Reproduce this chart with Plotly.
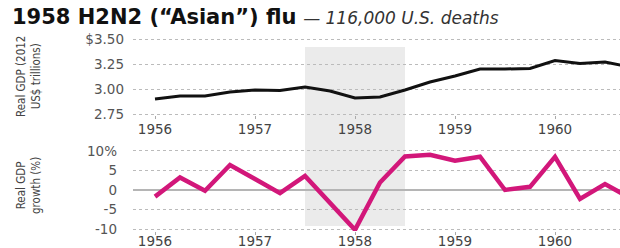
import plotly.graph_objects as go

quarters = [1956.0, 1956.25, 1956.5, 1956.75, 1957.0, 1957.25, 1957.5, 1957.75,
            1958.0, 1958.25, 1958.5, 1958.75, 1959.0, 1959.25, 1959.5, 1959.75,
            1960.0, 1960.25, 1960.5, 1960.75]
gdp = [2.90, 2.93, 2.93, 2.97, 2.99, 2.985, 3.02, 2.98,
       2.91, 2.92, 2.99, 3.07, 3.13, 3.20, 3.20, 3.205,
       3.285, 3.255, 3.27, 3.22]
growth = [-1.7, 3.2, -0.2, 6.4, 2.8, -0.8, 3.6, -3.4,
          -10.2, 1.9, 8.6, 9.0, 7.5, 8.5, 0.0, 0.8,
          8.5, -2.3, 1.5, -2.0]
year_ticks = [1956, 1957, 1958, 1959, 1960]
year_labels = ["1956", "1957", "1958", "1959", "1960"]
gdp_ticks = [2.75, 3.00, 3.25, 3.50]
gdp_labels = ["2.75", "3.00", "3.25", "$3.50"]
growth_ticks = [-10, -5, 0, 5, 10]
growth_labels = ["-10", "-5", "0", "5", "10%"]
recession = [1957.5, 1958.5]

W, H = 620, 248
def py(p):  # pixel from top -> paper fraction
    return (H - p) / H

FONT = "DejaVu Sans, Verdana, sans-serif"

fig = go.Figure()
fig.add_trace(go.Scatter(x=quarters, y=gdp, mode="lines",
                         line=dict(color="#111111", width=3), xaxis="x", yaxis="y"))
fig.add_trace(go.Scatter(x=quarters, y=growth, mode="lines",
                         line=dict(color="#d2177a", width=4.5), xaxis="x2", yaxis="y2"))

xr = [1955.78, 1960.65]
xfont = dict(family=FONT, size=13.5, color="#444")
yfont = dict(family=FONT, size=13.5, color="#555")
common_x = dict(range=xr, tickvals=year_ticks, ticktext=year_labels, showgrid=False,
                zeroline=False, showline=False, ticks="outside", ticklen=3,
                tickcolor="#aaa", tickfont=xfont, fixedrange=True, automargin=False)
fig.update_layout(
    width=W, height=H,
    margin=dict(l=0, r=0, t=0, b=0, autoexpand=False),
    paper_bgcolor="white", plot_bgcolor="rgba(0,0,0,0)",
    showlegend=False,
    xaxis=dict(domain=[133 / W, 1], anchor="y", ticklabelstandoff=-1, **common_x),
    xaxis2=dict(domain=[133 / W, 1], anchor="y2", ticklabelstandoff=-5, **common_x),
    yaxis=dict(domain=[py(115), py(36)], range=[2.74, 3.53], anchor="x",
               tickvals=gdp_ticks, ticktext=gdp_labels, automargin=False,
               showgrid=True, griddash="dot", gridcolor="#bbbbbb", gridwidth=1,
               zeroline=False, showline=False, ticks="", ticklabelstandoff=8,
               tickfont=yfont, fixedrange=True),
    yaxis2=dict(domain=[py(231), py(147)], range=[-10.5, 11], anchor="x2",
                tickvals=growth_ticks, ticktext=growth_labels, automargin=False,
                showgrid=True, griddash="dot", gridcolor="#bbbbbb", gridwidth=1,
                zeroline=True, zerolinecolor="#b5b5b5", zerolinewidth=2,
                showline=False, ticks="", ticklabelstandoff=15,
                tickfont=yfont, fixedrange=True),
)

fig.add_shape(type="rect", xref="x", yref="paper", x0=recession[0], x1=recession[1],
              y0=py(226), y1=py(47), fillcolor="#ebebeb", line=dict(width=0), layer="below")

fig.add_annotation(xref="paper", yref="paper", x=10 / W, y=py(17), xanchor="left", yanchor="middle",
                   showarrow=False,
                   text="<b>1958 H2N2 (“Asian”) flu</b> "
                        "<span style='color:#333;font-size:17px'><i>— 116,000 U.S. deaths</i></span>",
                   font=dict(family=FONT, size=21, color="#111"))

narrow = dict(family="DejaVu Sans Condensed, Liberation Sans Narrow, Arial Narrow, sans-serif",
              size=11.5, color="#444")
fig.add_annotation(xref="paper", yref="paper", x=29 / W, y=py(77), xanchor="center", yanchor="middle",
                   showarrow=False, textangle=-90, text="Real GDP (2012<br>US$ trillions)", font=narrow)
fig.add_annotation(xref="paper", yref="paper", x=28 / W, y=py(186), xanchor="center", yanchor="middle",
                   showarrow=False, textangle=-90, text="Real GDP<br>growth (%)", font=narrow)

fig.write_html("out.html", config={"displayModeBar": False},
               post_script="document.body.style.margin='0';")
